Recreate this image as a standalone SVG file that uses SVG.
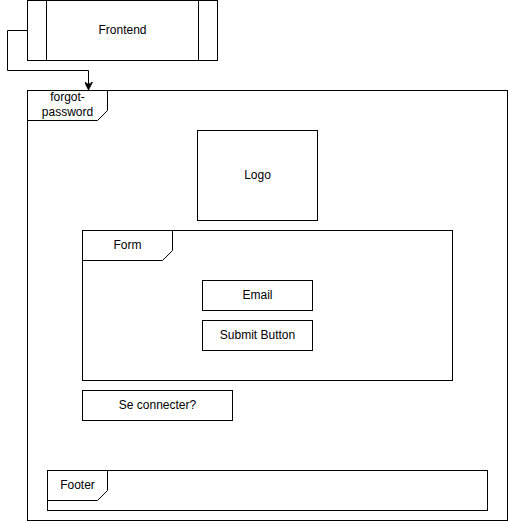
<svg xmlns="http://www.w3.org/2000/svg" width="508" height="521" viewBox="0 0 508 521">
  <defs>
    <style>
      .box { fill: #ffffff; stroke: #000000; stroke-width: 1; }
      .ln { fill: none; stroke: #000000; stroke-width: 1; }
      text { font-family: "Liberation Sans", Arial, Helvetica, sans-serif; font-size: 12px; fill: #000000; text-anchor: middle; dominant-baseline: central; }
    </style>
    <marker id="arrow" viewBox="0 0 10 10" refX="10" refY="5" markerWidth="8" markerHeight="8" markerUnits="userSpaceOnUse" orient="auto">
      <path d="M0,0 L10,5 L0,10 L3,5 Z" fill="#000000" stroke="#000000" stroke-width="1"/>
    </marker>
  </defs>
  <rect width="508" height="521" fill="#ffffff"/>

  <!-- page frame -->
  <g id="forgot-password">
    <rect class="box" x="27.5" y="90.5" width="480" height="430"/>
    <path class="ln" d="M27.5,120.5 L97.5,120.5 L107.5,110.5 L107.5,90.5"/>
    <text x="67.5" y="97">forgot-</text>
    <text x="67.5" y="112">password</text>
  </g>

  <g id="frontend">
    <rect class="box" x="27.5" y="0.5" width="190" height="60"/>
    <line class="ln" x1="46.5" y1="0.5" x2="46.5" y2="60.5"/>
    <line class="ln" x1="198.5" y1="0.5" x2="198.5" y2="60.5"/>
    <text x="122.5" y="29.5">Frontend</text>
  </g>

  <g id="logo">
    <rect class="box" x="197.5" y="130.5" width="120" height="90"/>
    <text x="257.5" y="174.5">Logo</text>
  </g>

  <g id="form">
    <rect class="box" x="82.5" y="230.5" width="370" height="150"/>
    <path class="ln" d="M82.5,260.5 L162.5,260.5 L172.5,250.5 L172.5,230.5"/>
    <text x="127.5" y="244.5">Form</text>
  </g>

  <g id="email">
    <rect class="box" x="202.5" y="280.5" width="110" height="30"/>
    <text x="257.5" y="294.5">Email</text>
  </g>

  <g id="submit">
    <rect class="box" x="202.5" y="320.5" width="110" height="30"/>
    <text x="257.5" y="334.5">Submit Button</text>
  </g>

  <g id="login-link">
    <rect class="box" x="82.5" y="390.5" width="150" height="30"/>
    <text x="157.5" y="404.5">Se connecter?</text>
  </g>

  <g id="footer">
    <rect class="box" x="47.5" y="470.5" width="440" height="40"/>
    <path class="ln" d="M47.5,500.5 L97.5,500.5 L107.5,490.5 L107.5,470.5"/>
    <text x="77.5" y="484.5">Footer</text>
  </g>

  <g id="connectors">
    <path class="ln" d="M27.5,30.5 L7.5,30.5 L7.5,70.5 L88.5,70.5 L88.5,90" marker-end="url(#arrow)"/>
  </g>
</svg>
